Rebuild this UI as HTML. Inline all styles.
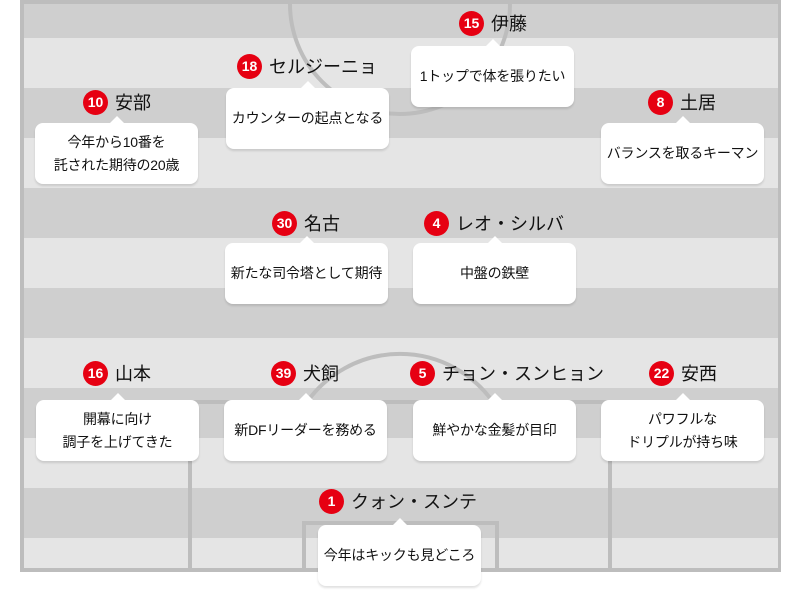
<!DOCTYPE html>
<html><head><meta charset="utf-8"><style>
*{margin:0;padding:0;box-sizing:border-box}
body{width:800px;height:604px;background:#fff;position:relative;overflow:hidden;font-family:"Liberation Sans","Noto Sans CJK JP",sans-serif;color:#111}
.s{position:absolute;left:24px;width:754px;height:50px}
.d{background:#cfcfcf}.l{background:#e5e5e5}
.box{position:absolute;width:163px;height:61px;background:#fff;border-radius:8px;box-shadow:0 2px 2px rgba(0,0,0,.12);display:flex;align-items:center;justify-content:center;text-align:center;font-size:14px;line-height:23px;font-weight:400;letter-spacing:-0.2px}
.box:before{content:"";position:absolute;left:50%;top:-7px;margin-left:-7px;border-left:7px solid transparent;border-right:7px solid transparent;border-bottom:7px solid #fff}
.nm{position:absolute;display:flex;align-items:center;font-size:18px;font-weight:400;white-space:nowrap;transform:translateX(-50%)}
.nm b{display:inline-block;width:25px;height:25px;border-radius:50%;background:#e60012;color:#fff;font-size:14px;line-height:25px;text-align:center;margin-right:7px;font-weight:bold}
</style></head><body>
<div style="position:absolute;left:20px;top:0;width:761px;height:572px;background:#bdbdbd"></div>
<div class="s d" style="top:4px;height:34px"></div>
<div class="s l" style="top:38px"></div>
<div class="s d" style="top:88px"></div>
<div class="s l" style="top:138px"></div>
<div class="s d" style="top:188px"></div>
<div class="s l" style="top:238px"></div>
<div class="s d" style="top:288px"></div>
<div class="s l" style="top:338px"></div>
<div class="s d" style="top:388px"></div>
<div class="s l" style="top:438px"></div>
<div class="s d" style="top:488px"></div>
<div class="s l" style="top:538px;height:30px"></div>
<svg style="position:absolute;left:0;top:0" width="800" height="604">
<g fill="none" stroke="#bdbdbd" stroke-width="4">
<path d="M290 4 A110 110 0 0 0 510 4"/>
<path d="M190 570 V402 H610 V570"/>
<path d="M304 570 V523 H497 V570"/>
<path d="M307 402 A114 114 0 0 1 493 402"/>
</g></svg>

<div class="nm" style="left:117px;top:89px"><b>10</b>安部</div>
<div class="box" style="left:35px;top:123px">今年から10番を<br>託された期待の20歳</div>

<div class="nm" style="left:307px;top:53px"><b>18</b>セルジーニョ</div>
<div class="box" style="left:226px;top:88px">カウンターの起点となる</div>

<div class="nm" style="left:493px;top:10px"><b>15</b>伊藤</div>
<div class="box" style="left:411px;top:46px">1トップで体を張りたい</div>

<div class="nm" style="left:682px;top:89px"><b>8</b>土居</div>
<div class="box" style="left:601px;top:123px">バランスを取るキーマン</div>

<div class="nm" style="left:306px;top:210px"><b>30</b>名古</div>
<div class="box" style="left:225px;top:243px">新たな司令塔として期待</div>

<div class="nm" style="left:494px;top:210px"><b>4</b>レオ・シルバ</div>
<div class="box" style="left:413px;top:243px">中盤の鉄壁</div>

<div class="nm" style="left:117px;top:360px"><b>16</b>山本</div>
<div class="box" style="left:36px;top:400px">開幕に向け<br>調子を上げてきた</div>

<div class="nm" style="left:305px;top:360px"><b>39</b>犬飼</div>
<div class="box" style="left:224px;top:400px">新DFリーダーを務める</div>

<div class="nm" style="left:507px;top:360px"><b>5</b>チョン・スンヒョン</div>
<div class="box" style="left:413px;top:400px">鮮やかな金髪が目印</div>

<div class="nm" style="left:683px;top:360px"><b>22</b>安西</div>
<div class="box" style="left:601px;top:400px">パワフルな<br>ドリプルが持ち味</div>

<div class="nm" style="left:398px;top:488px"><b>1</b>クォン・スンテ</div>
<div class="box" style="left:318px;top:525px">今年はキックも見どころ</div>
</body></html>
